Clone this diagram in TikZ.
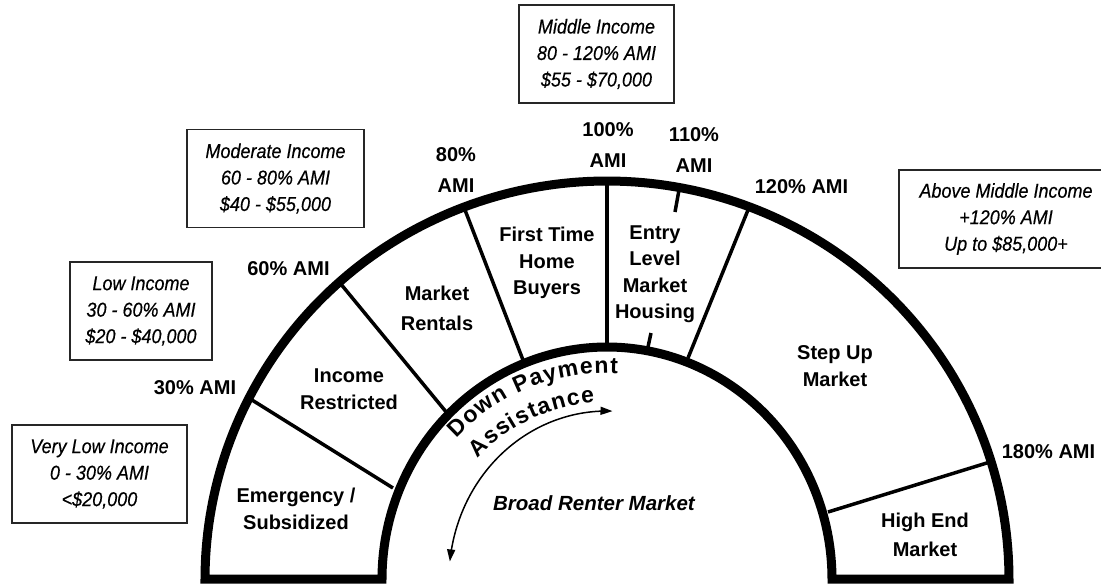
\documentclass[tikz,border=0pt]{standalone}
\usepackage{fontspec}
\setmainfont{Liberation Sans}
\newfontfamily\boxfontfam{Liberation Sans}[FakeStretch=0.9,FakeBold=0.4]
\usetikzlibrary{arrows.meta,decorations.text}
\newcommand\dpfont{\bfseries\fontsize{23}{23}\selectfont}
\begin{document}
\begin{tikzpicture}[x=1pt,y=-1pt,
  lab/.style={font=\bfseries\fontsize{20}{26.5}\selectfont, align=center, inner sep=0pt},
  ami/.style={font=\bfseries\fontsize{20}{31}\selectfont, align=center, inner sep=0pt},
  infobox/.style={draw=black!85, line width=1.6pt, minimum height=98pt, align=center, inner sep=0pt,
    font=\boxfontfam\itshape\fontsize{20}{26.5}\selectfont},
  band/.style={line width=9pt, line join=miter},
  divider/.style={line width=3.5pt},
  sweep/.style={line width=1.5pt, {Triangle[length=12pt,width=8pt]}-{Triangle[length=12pt,width=8pt]}},
]
\useasboundingbox (0,0) rectangle (1101,584);
\fill[white] (0,0) rectangle (1101,584);

% band of the gauge
\draw[band] plot[domain=180:0,samples=160] ({607+402*cos(\x)},{579-398*sin(\x)})
  -- plot[domain=0:180,samples=160] ({607+225*cos(\x)},{579-232*sin(\x)}) -- cycle;

% divider points
\coordinate (o30) at (252,400);  \coordinate (i30) at (393,488);
\coordinate (o60) at (340,283);  \coordinate (i60) at (447,413);
\coordinate (o80) at (465,210);  \coordinate (i80) at (523,360);
\coordinate (o100) at (607,181); \coordinate (i100) at (607,347);
\coordinate (o110) at (679,190); \coordinate (a110) at (675,212);
\coordinate (b110) at (651,333); \coordinate (i110) at (648,347);
\coordinate (o120) at (748,210); \coordinate (i120) at (688,358);
\coordinate (o180) at (990,462); \coordinate (i180) at (828,512);

\draw[divider] (o30) -- (i30);
\draw[divider] (o60) -- (i60);
\draw[divider] (o80) -- (i80);
\draw[divider] (o100) -- (i100);
\draw[divider] (o110) -- (a110);
\draw[divider] (b110) -- (i110);
\draw[divider] (o120) -- (i120);
\draw[divider] (o180) -- (i180);

% segment labels
\node[lab] (emerg) at (296,509) {Emergency /\\Subsidized};
\node[lab] (increst) at (349,389) {Income\\Restricted};
\node[lab, font=\bfseries\fontsize{20}{30}\selectfont] (mrent) at (437,308) {Market\\Rentals};
\node[lab] (fthb) at (547,263) {First Time\\Home\\Buyers};
\node[lab] (entry) at (655,274) {Entry\\Level\\Market\\Housing};
\node[lab] (stepup) at (835,366) {Step Up\\Market};
\node[lab, font=\bfseries\fontsize{20}{29}\selectfont] (highend) at (925,535) {High End\\Market};

% AMI labels
\node[ami, anchor=base] (a30) at (195,394) {30\% AMI};
\node[ami, anchor=base] (a60) at (288.5,275) {60\% AMI};
\node[ami] (a80) at (456,170) {80\%\\AMI};
\node[ami] (a100) at (608,145) {100\%\\AMI};
\node[ami] (a110) at (694,150) {110\%\\AMI};
\node[ami, anchor=base] (a120) at (801.5,193) {120\% AMI};
\node[ami, anchor=base] (a180) at (1048.5,458) {180\% AMI};

% income boxes
\node[infobox, minimum width=175pt] (vlow) at (99.5,474) {Very Low Income\\0 - 30\% AMI\\<\$20,000};
\node[infobox, minimum width=142pt] (low) at (141,311) {Low Income\\30 - 60\% AMI\\\$20 - \$40,000};
\node[infobox, minimum width=177pt] (moder) at (275.5,178.5) {Moderate Income\\60 - 80\% AMI\\\$40 - \$55,000};
\node[infobox, minimum width=155pt] (middle) at (596.5,54) {Middle Income\\80 - 120\% AMI\\\$55 - \$70,000};
\node[infobox, minimum width=214pt] (above) at (1006,219) {Above Middle Income\\+120\% AMI\\Up to \$85,000+};

% inner area
\path[decorate, decoration={text along path, text={|\dpfont|Down Payment}, text align=fit to path}]
  plot[domain=137:87,samples=100] ({607+206*cos(\x)},{579-206*sin(\x)});
\path[decorate, decoration={text along path, text={|\dpfont|Assistance}, text align=fit to path}]
  plot[domain=137:94,samples=100] ({607+177*cos(\x)},{579-177*sin(\x)});
\draw[sweep] plot[domain=174:88,samples=80] ({607+158*cos(\x)},{579-168*sin(\x)});
\node[font=\bfseries\itshape\fontsize{20.5}{24}\selectfont, anchor=base, inner sep=0pt] (broad) at (594,510) {Broad Renter Market};
\end{tikzpicture}
\end{document}
